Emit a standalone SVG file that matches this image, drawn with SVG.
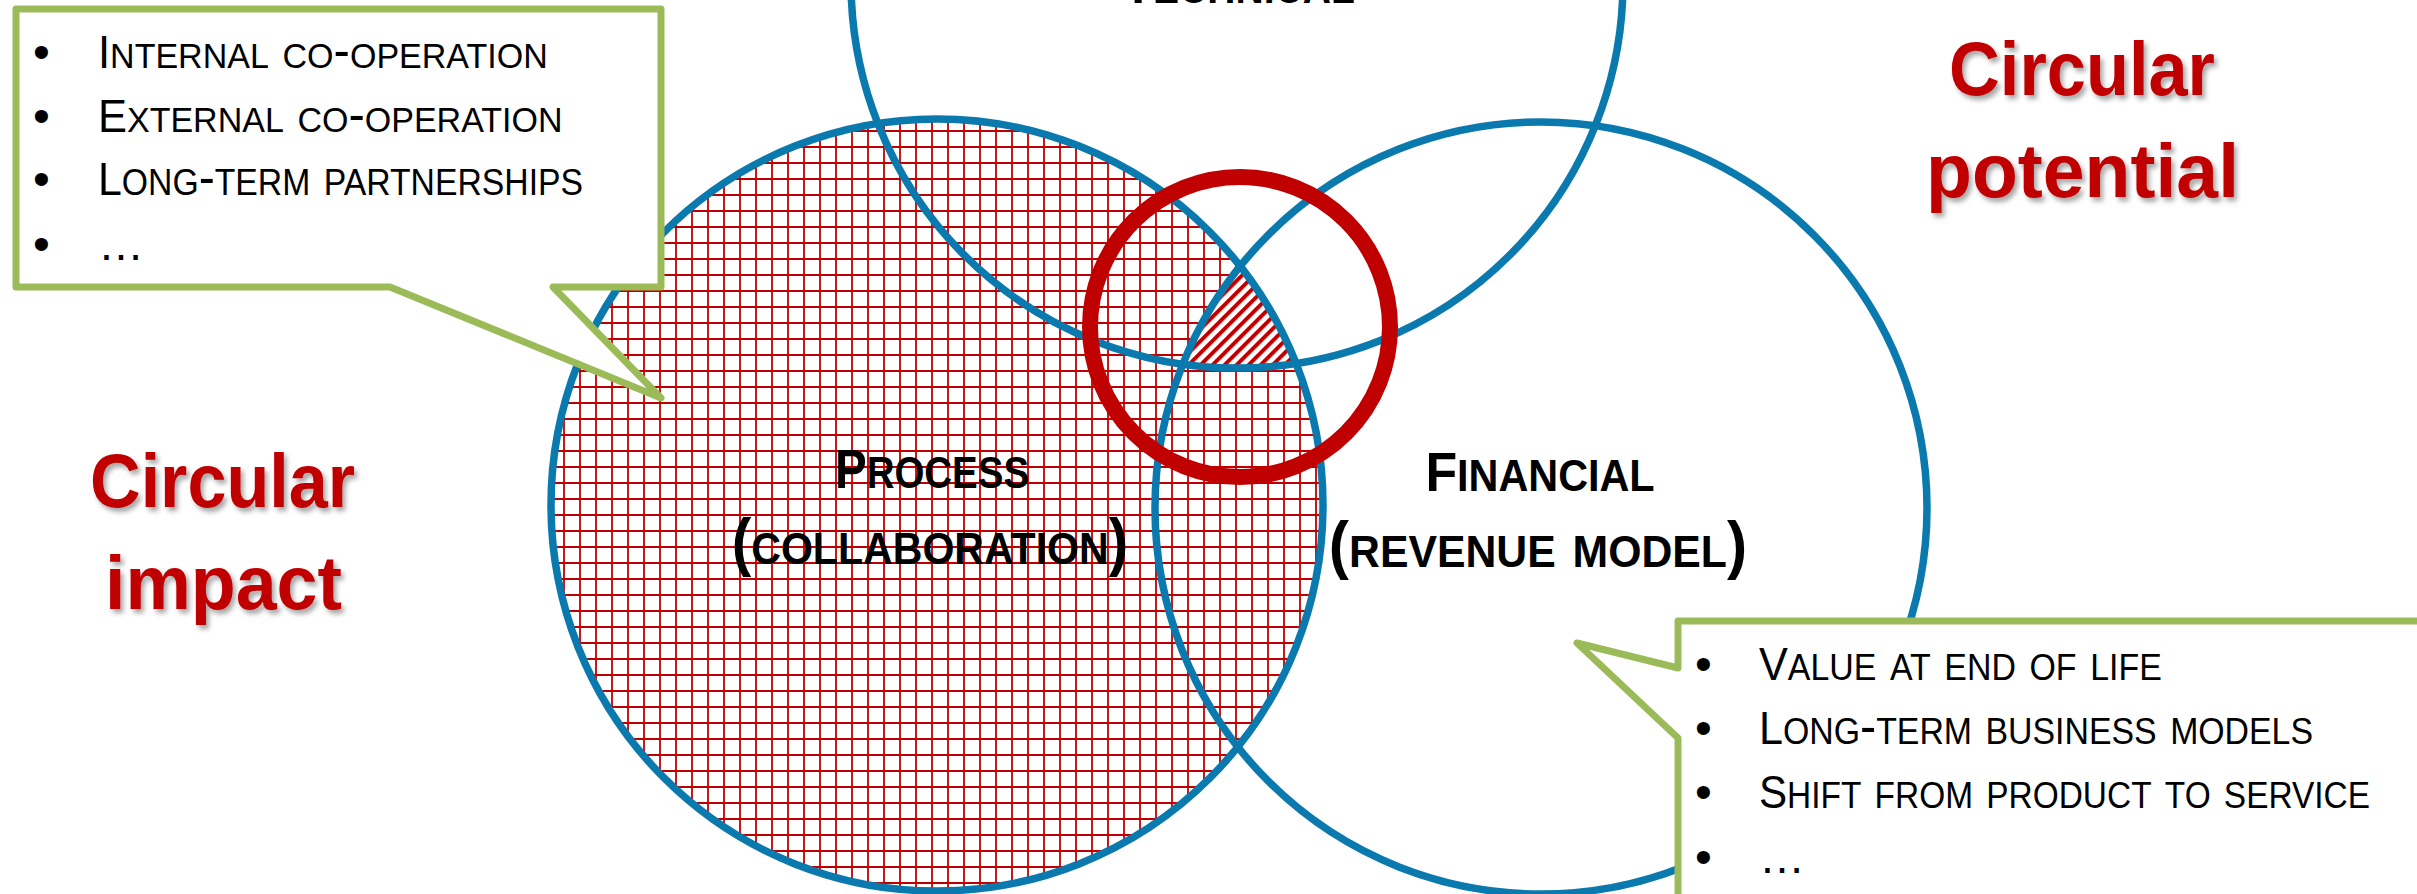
<svg xmlns="http://www.w3.org/2000/svg" width="2417" height="894" viewBox="0 0 2417 894">
<style>
.venn{fill:none;stroke:#0A79AE;stroke-width:7.5}
.ring{fill:none;stroke:#C00000;stroke-width:16}
.lbl{font-family:"Liberation Sans",Arial,sans-serif;font-weight:bold;font-size:64px;font-variant:small-caps;fill:#000;text-anchor:middle}
.cap{font-size:56px}
.big{font-family:"Liberation Sans",Arial,sans-serif;font-weight:bold;font-size:76px;fill:#C00000}
.co{fill:#fff;stroke:#9BBB59;stroke-width:7;stroke-linejoin:round}
.item{font-family:"Liberation Sans",Arial,sans-serif;font-size:52px;font-variant:small-caps;fill:#000}
.icap{font-size:46px}
.dots{font-family:"Liberation Sans",Arial,sans-serif;font-size:46px;fill:#000}
.bul{font-family:"Liberation Sans",Arial,sans-serif;font-size:48px;fill:#000}
</style>
<defs>
<pattern id="grid" patternUnits="userSpaceOnUse" x="3" y="2" width="16" height="16">
<path d="M1,0V16M0,1H16" stroke="#C00000" stroke-width="1.8" fill="none"/>
</pattern>
<pattern id="hatch" patternUnits="userSpaceOnUse" width="8.5" height="8.5" patternTransform="rotate(45)">
<rect width="4" height="8.5" fill="#C00000"/>
</pattern>
<clipPath id="clipT"><circle cx="1237" cy="-18" r="386"/></clipPath>
<clipPath id="clipF"><circle cx="1541" cy="508" r="386"/></clipPath>
<filter id="shadow" x="-10%" y="-20%" width="130%" height="150%">
<feDropShadow dx="3" dy="4" stdDeviation="2.5" flood-color="#000" flood-opacity="0.35"/>
</filter>
</defs>
<rect width="2417" height="894" fill="#fff"/>

<g id="process-fill">
<circle cx="937" cy="505" r="386" fill="url(#grid)"/>
</g>
<g id="core-overlap" clip-path="url(#clipT)">
<g clip-path="url(#clipF)">
<circle cx="937" cy="505" r="386" fill="#fff"/>
<circle cx="937" cy="505" r="386" fill="url(#hatch)"/>
</g>
</g>

<g id="technical">
<circle class="venn" cx="1237" cy="-18" r="386"/>
<text class="lbl" transform="translate(1239,3) scale(0.873,1)"><tspan class="cap">T</tspan>echnical</text>
</g>
<g id="process">
<circle class="venn" cx="937" cy="505" r="386"/>
<text class="lbl" transform="translate(932,488) scale(0.85,1)"><tspan class="cap">P</tspan>rocess</text>
<text class="lbl" transform="translate(930,564) scale(0.916,1)">(collaboration)</text>
</g>
<g id="financial">
<circle class="venn" cx="1541" cy="508" r="386"/>
<text class="lbl" transform="translate(1540,491) scale(0.927,1)"><tspan class="cap">F</tspan>inancial</text>
<text class="lbl" transform="translate(1538,567) scale(0.946,1)">(revenue model)</text>
</g>
<g id="focus-ring">
<circle class="ring" cx="1240" cy="327" r="150"/>
</g>

<g id="callout-process">
<path class="co" d="M16,9H661V287H553L661,398L390,287H16Z"/>
<text class="bul" x="33" y="68">•</text>
<text class="bul" x="33" y="132">•</text>
<text class="bul" x="33" y="195">•</text>
<text class="bul" x="33" y="260">•</text>
<text class="item" transform="translate(98,68) scale(0.946,1)"><tspan class="icap">I</tspan>nternal co-operation</text>
<text class="item" transform="translate(98,132) scale(0.945,1)"><tspan class="icap">E</tspan>xternal co-operation</text>
<text class="item" transform="translate(98,195) scale(0.931,1)"><tspan class="icap">L</tspan>ong-term partnerships</text>
<text class="dots" x="98" y="260">…</text>
</g>

<g id="callout-financial">
<path class="co" d="M1678,621H2440V910H1678V738L1577,643L1678,668Z"/>
<text class="bul" x="1695" y="680">•</text>
<text class="bul" x="1695" y="744">•</text>
<text class="bul" x="1695" y="808">•</text>
<text class="bul" x="1695" y="873">•</text>
<text class="item" transform="translate(1759,680) scale(0.94,1)"><tspan class="icap">V</tspan>alue at end of life</text>
<text class="item" transform="translate(1759,744) scale(0.936,1)"><tspan class="icap">L</tspan>ong-term business models</text>
<text class="item" transform="translate(1759,808) scale(0.916,1)"><tspan class="icap">S</tspan>hift from product to service</text>
<text class="dots" x="1759" y="873">…</text>
</g>

<g id="circular-potential" filter="url(#shadow)">
<text class="big" x="1949" y="95" textLength="266" lengthAdjust="spacingAndGlyphs">Circular</text>
<text class="big" x="1926" y="197" textLength="313" lengthAdjust="spacingAndGlyphs">potential</text>
</g>
<g id="circular-impact" filter="url(#shadow)">
<text class="big" x="90" y="507" textLength="265" lengthAdjust="spacingAndGlyphs">Circular</text>
<text class="big" x="105" y="609" textLength="237" lengthAdjust="spacingAndGlyphs">impact</text>
</g>
</svg>
